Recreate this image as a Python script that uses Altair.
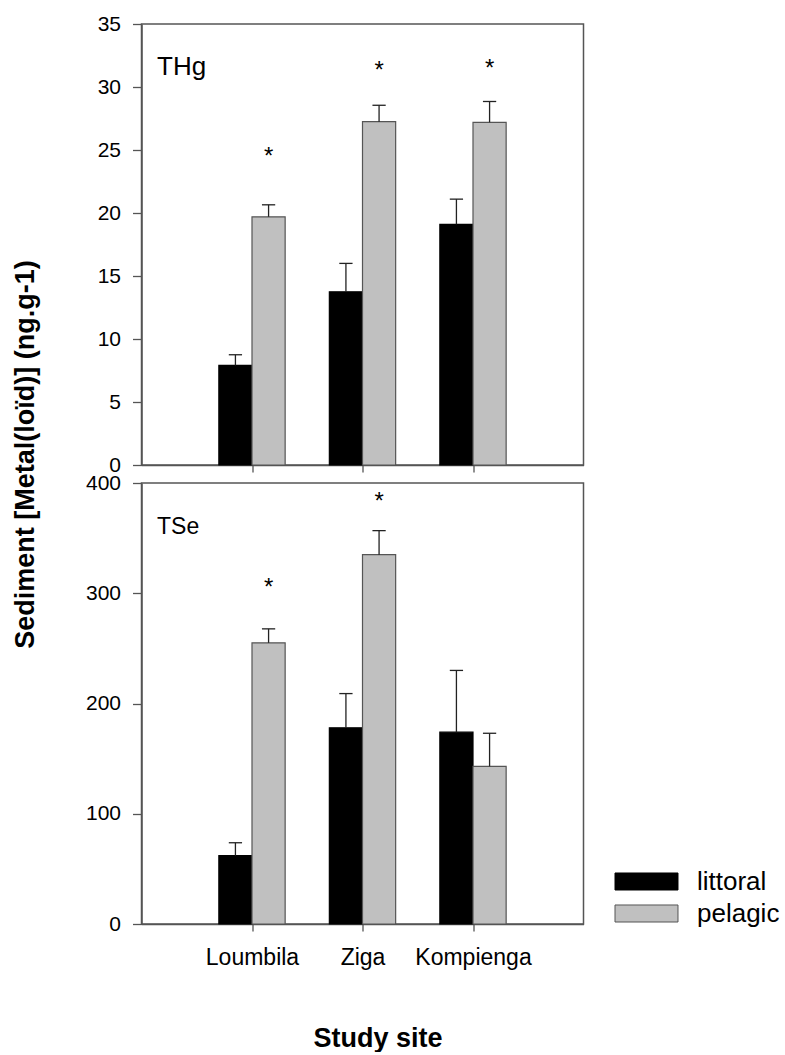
import altair as alt
import pandas as pd

# ---- data ----
sites = ["Loumbila", "Ziga", "Kompienga"]
groups = ["littoral", "pelagic"]

thg_littoral = [7.9, 13.75, 19.1]
thg_littoral_err = [0.85, 2.25, 2.0]
thg_pelagic = [19.7, 27.25, 27.2]
thg_pelagic_err = [0.95, 1.3, 1.65]
thg_star = [24.9, 31.75, 31.9]

tse_littoral = [62, 178, 174]
tse_littoral_err = [11.7, 31, 56]
tse_pelagic = [255, 335, 143]
tse_pelagic_err = [12.7, 21.8, 30]
tse_star = [310, 388, None]

thg_ticks = [0, 5, 10, 15, 20, 25, 30, 35]
tse_ticks = [0, 100, 200, 300, 400]

FONT = "Liberation Sans"
AXIS_COLOR = "#555555"
W, H = 442, 441

label_expr = "[" + ",".join("'%s'" % s for s in sites) + "][datum.value - 1]"


def panel(lit, lit_err, pel, pel_err, star, ticks, label, label_size, bottom):
    rows = []
    for k, s in enumerate(sites):
        rows.append(dict(site=s, idx=k + 1, group="littoral", value=lit[k], err=lit_err[k]))
        rows.append(dict(site=s, idx=k + 1, group="pelagic", value=pel[k], err=pel_err[k]))
    df = pd.DataFrame(rows)
    sdf = pd.DataFrame({"site": sites, "idx": [1, 2, 3], "star": star}).dropna()

    xscale = alt.Scale(domain=[0, 4], nice=False, zero=False)
    yscale = alt.Scale(domain=[ticks[0], ticks[-1]], nice=False)

    if bottom:
        xaxis = alt.Axis(values=[1, 2, 3], labelExpr=label_expr, title="Study site",
                         tickSize=7, labelPadding=33, labelBaseline="alphabetic",
                         labelFontSize=23, titleFontSize=27, titleFontWeight="bold",
                         titleX=236, titleY=122, titleBaseline="alphabetic",
                         titleAnchor="start", titleAlign="center")
        yaxis = alt.Axis(values=ticks, title=None, tickSize=9, labelPadding=12,
                         labelFontSize=21)
    else:
        xaxis = alt.Axis(values=[1, 2, 3], labels=False, title=None, tickSize=7)
        yaxis = alt.Axis(values=ticks, title="Sediment [Metal(loïd)] (ng.g-1)",
                         tickSize=9, labelPadding=12, labelFontSize=21,
                         titleFontSize=27, titleFontWeight="bold",
                         titleX=-108, titleY=430, titleAngle=270,
                         titleBaseline="alphabetic", titleAlign="center")

    base = alt.Chart(df).transform_calculate(
        xa="datum.idx + (datum.group === 'littoral' ? -0.3 : 0)",
    ).transform_calculate(
        xb="datum.xa + 0.3",
        xc="datum.xa + 0.15",
        top="datum.value + datum.err",
    ).transform_calculate(
        c1="datum.xc - 0.06",
        c2="datum.xc + 0.06",
    )

    bars = base.mark_bar(strokeWidth=1.2).encode(
        x=alt.X("xa:Q", scale=xscale, axis=xaxis),
        x2="xb:Q",
        y=alt.Y("value:Q", scale=yscale, axis=yaxis),
        y2=alt.datum(0),
        color=alt.Color("group:N", scale=alt.Scale(domain=groups, range=["#000000", "#c0c0c0"]),
                        legend=alt.Legend(title=None, orient="none", legendX=488.5, legendY=841,
                                          symbolType="M-2,-0.54H2V0.54H-2Z", symbolSize=992,
                                          symbolStrokeColor=AXIS_COLOR, symbolStrokeWidth=1,
                                          labelFontSize=26, labelFont=FONT, labelOffset=34,
                                          rowPadding=2)),
        stroke=alt.Stroke("group:N", scale=alt.Scale(domain=groups, range=["#000000", AXIS_COLOR]),
                          legend=None),
    )

    err_line = base.mark_rule(color="#222222", strokeWidth=1.3).encode(
        x="xc:Q", y="value:Q", y2="top:Q")
    err_cap = base.mark_rule(color="#222222", strokeWidth=1.3).encode(
        x="c1:Q", x2="c2:Q", y="top:Q")

    stars = alt.Chart(sdf).transform_calculate(xs="datum.idx + 0.15").mark_text(
        text="*", fontSize=24, font=FONT, dy=13, baseline="alphabetic", color="#000000"
    ).encode(x="xs:Q", y="star:Q")

    lab = alt.Chart(pd.DataFrame({"label": [label]})).mark_text(
        align="left", baseline="alphabetic", fontSize=label_size, font=FONT, color="#000000"
    ).encode(x=alt.value(15.5), y=alt.value(51), text="label:N")

    return alt.layer(bars, err_line, err_cap, stars, lab).properties(width=W, height=H)


top = panel(thg_littoral, thg_littoral_err, thg_pelagic, thg_pelagic_err, thg_star,
            thg_ticks, "THg", 26, False)
bot = panel(tse_littoral, tse_littoral_err, tse_pelagic, tse_pelagic_err, tse_star,
            tse_ticks, "TSe", 23, True)

chart = alt.vconcat(top, bot, spacing=18, bounds="flush").properties(
    padding={"left": 10.5, "top": 12, "right": 0, "bottom": 0}
).configure(
    font=FONT, background="white"
).configure_view(
    stroke=AXIS_COLOR, strokeWidth=1.5
).configure_axis(
    grid=False, domainColor=AXIS_COLOR, tickColor=AXIS_COLOR, domainWidth=1.5,
    tickWidth=1.3, labelColor="#000000", titleColor="#000000", labelFont=FONT,
    titleFont=FONT
)

chart.save("out.html", embed_options={"renderer": "svg", "actions": False})
